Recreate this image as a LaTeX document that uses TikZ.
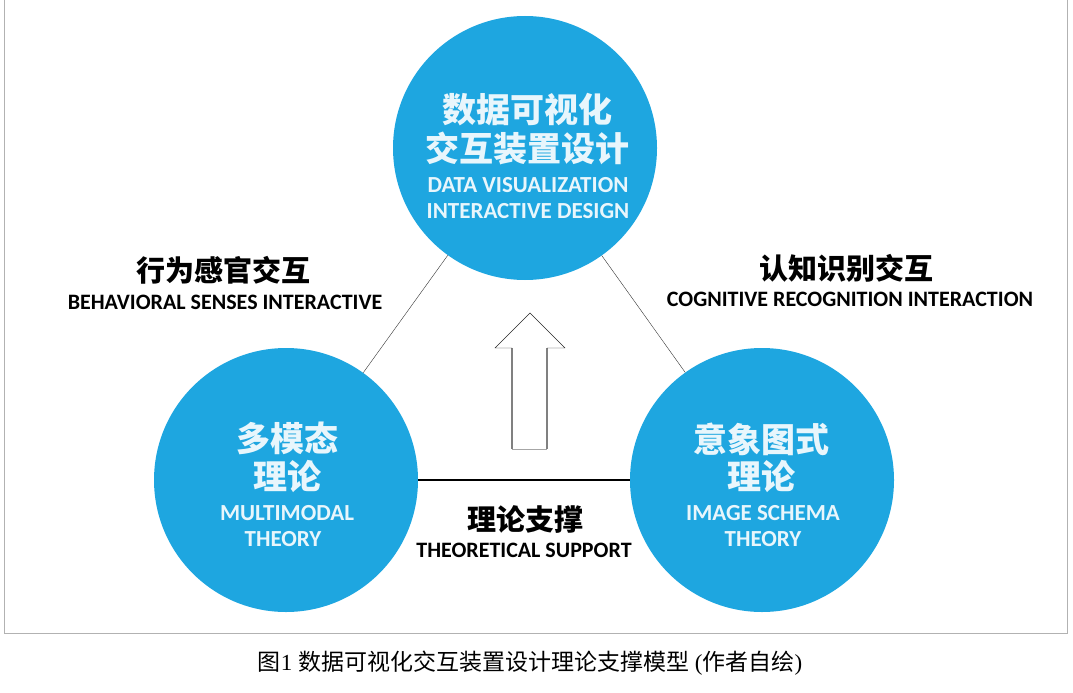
\documentclass[tikz,border=0pt]{standalone}
\usepackage{fontspec}
\setmainfont{Liberation Serif}
\newfontfamily\cjk{Noto Sans CJK SC}
\newfontfamily\latin{Carlito}
\usetikzlibrary{positioning}
\definecolor{circblue}{RGB}{30,166,224}
\definecolor{circtext}{RGB}{232,246,252}
\tikzset{
  theory/.style={circle, fill=circblue, minimum size=264pt, inner sep=0pt},
  zhin/.style={text=circtext, inner sep=0pt, font=\cjk\bfseries\fontsize{34}{34}\selectfont},
  enin/.style={text=circtext, inner sep=0pt, font=\latin\bfseries\fontsize{23}{23}\selectfont},
  zhout/.style={inner sep=0pt, font=\cjk\bfseries\fontsize{29}{29}\selectfont},
  enout/.style={inner sep=0pt, font=\latin\bfseries\fontsize{22}{22}\selectfont},
}

\begin{document}
\begin{tikzpicture}[x=1pt,y=-1pt]
  \useasboundingbox (0,0) rectangle (1073,693);
  \draw[gray!60] (4.5,0) -- (4.5,633) -- (1067,633) -- (1067,0);

  \node[theory] (data) at (525,148) {};
  \node[theory] (multi) at (286,480) {};
  \node[theory] (schema) at (762,480) {};
  \draw[black!80] (data) -- (multi);
  \draw[black!80] (data) -- (schema);
  \draw[line width=1.6pt] (multi) -- (schema);

  % up arrow
  \draw[gray, line width=2pt] (512,348) -- (512,449);
  \draw[gray, line width=2pt] (547,348) -- (547,449);
  \draw[gray!70] (512,449) -- (547,449);
  \draw[black!85] (512,348) -- (495,348) -- (530,313) -- (565,348) -- (547,348);

  \node[zhin] (datazh1) at (527,110) {数据可视化};
  \node[zhin] (datazh2) at (527,148) {交互装置设计};
  \node[enin] (dataen1) at (528,185) {DATA VISUALIZATION};
  \node[enin] (dataen2) at (528,211) {INTERACTIVE DESIGN};

  \node[zhin] (multizh1) at (287,438) {多模态};
  \node[zhin] (multizh2) at (287,477) {理论};
  \node[enin] (multien1) at (287,513) {MULTIMODAL};
  \node[enin] (multien2) at (283,539) {THEORY};

  \node[zhin] (schemazh1) at (761,439) {意象图式};
  \node[zhin] (schemazh2) at (761,477) {理论};
  \node[enin] (schemaen1) at (763,513) {IMAGE SCHEMA};
  \node[enin] (schemaen2) at (763,539) {THEORY};

  \node[zhout] (behzh) at (223,270) {行为感官交互};
  \node[enout] (behen) at (225,302) {BEHAVIORAL SENSES INTERACTIVE};
  \node[zhout] (coglzh) at (846,268) {认知识别交互};
  \node[enout] (cogen) at (850,299) {COGNITIVE RECOGNITION INTERACTION};
  \node[zhout] (supzh) at (525,520) {理论支撑};
  \node[enout] (supen) at (524,550) {THEORETICAL SUPPORT};

  \node[font=\fontsize{23}{23}\selectfont] (caption) at (530,663)
    {{\cjk 图}1\ {\cjk 数据可视化交互装置设计理论支撑模型} ({\cjk 作者自绘})};
\end{tikzpicture}
\end{document}
